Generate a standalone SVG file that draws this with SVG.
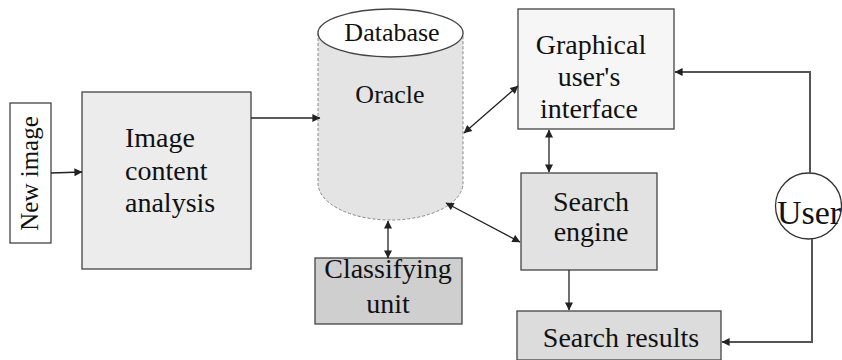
<svg xmlns="http://www.w3.org/2000/svg" width="842" height="360" viewBox="0 0 842 360" font-family="'Liberation Serif', 'DejaVu Serif', serif">
<defs>
<marker id="ah" viewBox="0 0 10 10" refX="9.5" refY="5" markerWidth="10" markerHeight="8" markerUnits="userSpaceOnUse" orient="auto-start-reverse">
<path d="M0,0 L10,5 L0,10 z" fill="#222"/>
</marker>
</defs>
<style>
text{font-family:'Liberation Serif','DejaVu Serif',serif;fill:#111;font-size:28px}
.box{stroke:#444;stroke-width:1.3}
.c{text-anchor:middle}
.ln{fill:none;stroke:#222;stroke-width:1.3}
.ln2{fill:none;stroke:#555;stroke-width:2}
</style>
<rect width="842" height="360" fill="#fff"/>
<g id="new-image">
<rect class="box" x="10" y="103" width="41" height="140" fill="#fff"/>
<text class="c" transform="translate(38,173.5) rotate(-90)" style="font-size:25px">New image</text>
</g>
<g id="image-content-analysis">
<rect class="box" x="82" y="92" width="169" height="177" fill="#ececec"/>
<text x="125" y="147">Image</text>
<text x="125" y="180">content</text>
<text x="125" y="212">analysis</text>
</g>
<g id="database">
<path d="M318,33 L318,183 A72.5,37 0 0 0 463,183 L463,33" fill="#e4e4e4" stroke="#888" stroke-width="1" stroke-dasharray="3,2"/>
<ellipse cx="390.5" cy="33" rx="72.5" ry="24" fill="#fff" stroke="#444" stroke-width="1.3"/>
<text class="c" x="392" y="41" style="font-size:26px">Database</text>
<text class="c" x="390" y="103" style="font-size:26px">Oracle</text>
</g>
<g id="gui">
<rect class="box" x="518" y="9" width="156" height="120" fill="#f6f6f6"/>
<text class="c" x="591" y="54">Graphical</text>
<text class="c" x="589" y="86">user's</text>
<text class="c" x="589" y="118">interface</text>
</g>
<g id="search-engine">
<rect class="box" x="521" y="173" width="136" height="97" fill="#e2e2e2"/>
<text class="c" x="591" y="211">Search</text>
<text class="c" x="591" y="241">engine</text>
</g>
<g id="classifying-unit">
<rect class="box" x="315" y="258" width="147" height="66" fill="#cfcfcf"/>
<text class="c" x="388" y="278">Classifying</text>
<text class="c" x="388" y="313">unit</text>
</g>
<g id="search-results">
<rect class="box" x="517" y="311" width="204" height="49" fill="#dcdcdc"/>
<text class="c" x="621" y="347">Search results</text>
</g>
<g id="user">
<ellipse cx="808.5" cy="206" rx="33" ry="33" fill="#fff" stroke="#333" stroke-width="1.3"/>
<text class="c" x="809" y="224" style="font-size:34px">User</text>
</g>
<g id="connectors">
<line class="ln" x1="51" y1="173" x2="82" y2="172" marker-end="url(#ah)"/>
<line class="ln" x1="251" y1="118" x2="320" y2="118" marker-end="url(#ah)"/>
<line class="ln" x1="464" y1="133" x2="518" y2="86" marker-start="url(#ah)" marker-end="url(#ah)"/>
<line class="ln" x1="549" y1="130" x2="549" y2="172" marker-start="url(#ah)" marker-end="url(#ah)"/>
<line class="ln" x1="446" y1="203" x2="520" y2="242" marker-start="url(#ah)" marker-end="url(#ah)"/>
<line class="ln" x1="388" y1="221" x2="388" y2="258" marker-start="url(#ah)" marker-end="url(#ah)"/>
<line class="ln" x1="569" y1="270" x2="569" y2="310" marker-end="url(#ah)"/>
<polyline class="ln2" points="810,173 810,72 675,72" marker-end="url(#ah)"/>
<polyline class="ln2" points="812,239 812,342 722,342" marker-end="url(#ah)"/>
</g>
</svg>
